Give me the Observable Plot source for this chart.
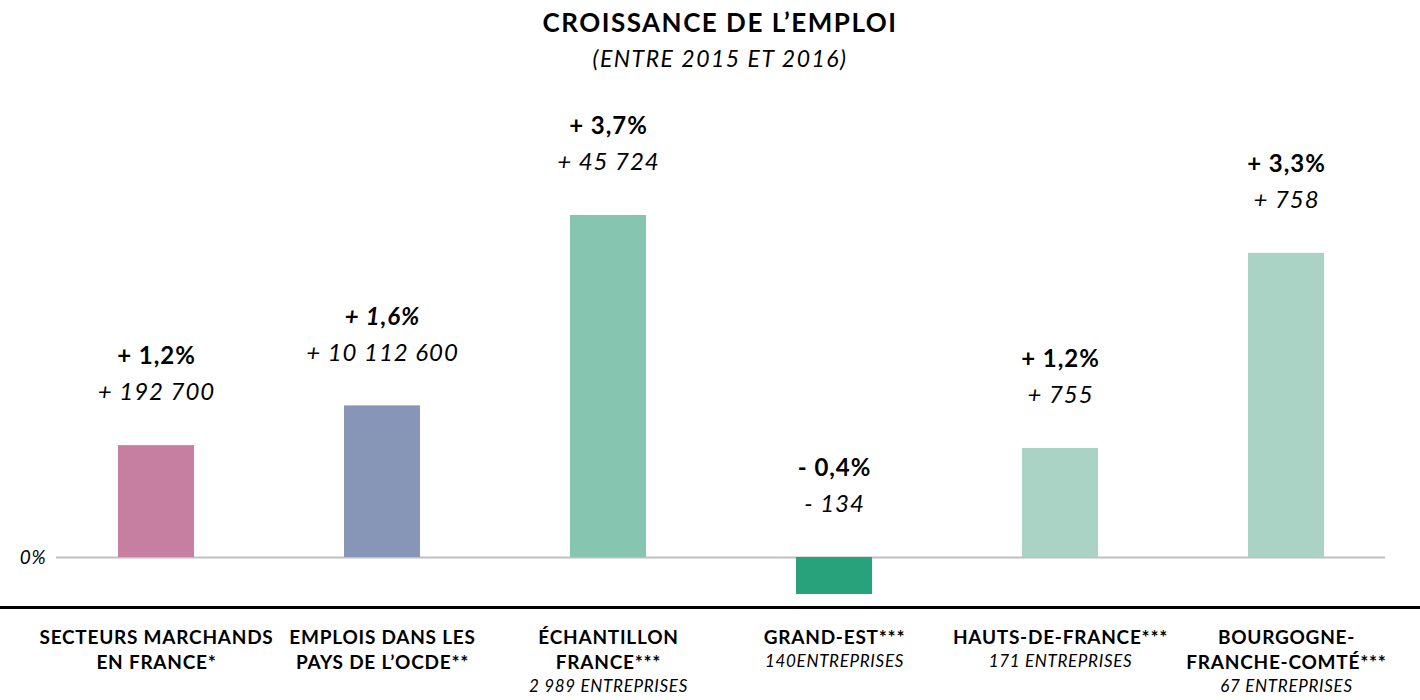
<!DOCTYPE html>
<html>
<head>
<meta charset="utf-8">
<script src="https://cdn.jsdelivr.net/npm/d3@7"></script>
<script src="https://cdn.jsdelivr.net/npm/@observablehq/plot@0.6"></script>
<style>
  html, body { margin: 0; padding: 0; background: #fff; }
  body { width: 1420px; height: 700px; overflow: hidden; font-family: Lato, "Open Sans", sans-serif; color: #000; }
  #title { height: 42px; line-height: 44px; text-align: center; padding-left: 20px; font-weight: 700; font-size: 26px; letter-spacing: 1.5px; }
  #subtitle { height: 38px; line-height: 32px; text-align: center; padding-left: 20px; font-style: italic; font-size: 23px; letter-spacing: 1.5px; }
  svg { display: block; }
  #chart svg text { letter-spacing: 0.04em; }
</style>
</head>
<body>
<div id="title">CROISSANCE DE L’EMPLOI</div>
<div id="subtitle">(ENTRE 2015 ET 2016)</div>
<div id="chart"></div>
<script>
const categories = [
  "SECTEURS MARCHANDS\nEN FRANCE*",
  "EMPLOIS DANS LES\nPAYS DE L’OCDE**",
  "ÉCHANTILLON\nFRANCE***",
  "GRAND-EST***",
  "HAUTS-DE-FRANCE***",
  "BOURGOGNE-\nFRANCHE-COMTÉ***"
];
const values = [1.21, 1.64, 3.70, -0.40, 1.18, 3.29];
const pctLabels = ["+ 1,2%", "+ 1,6%", "+ 3,7%", "- 0,4%", "+ 1,2%", "+ 3,3%"];
const countLabels = ["+ 192 700", "+ 10 112 600", "+ 45 724", "- 134", "+ 755", "+ 758"];
const subLabels = ["", "", "2 989 ENTREPRISES", "140ENTREPRISES", "171 ENTREPRISES", "67 ENTREPRISES"];
const italicPct = [false, true, false, false, false, false];
const colors = ["#C67FA0", "#8795B6", "#86C6B0", "#27A27B", "#ABD3C5", "#ABD3C5"];
const yDomain = [-0.541, 5.16];

const data = categories.map((cat, i) => ({
  cat, value: values[i], pct: pctLabels[i], count: countLabels[i],
  sub: subLabels[i], italic: italicPct[i], lines: cat.split("\n").length
}));

const font = "Lato, 'Open Sans', sans-serif";
const LH = 25;
const catSize = 19;
const subSize = 17;

const chart = Plot.plot({
  width: 1420,
  height: 620,
  marginLeft: 56,
  marginRight: 35,
  marginTop: 0,
  marginBottom: 93,
  style: { fontFamily: font, color: "#000", background: "#fff" },
  x: { type: "band", domain: categories, paddingInner: 0.665, paddingOuter: 0.264, axis: null },
  y: { domain: yDomain, axis: null },
  color: { domain: categories, range: colors },
  marks: [
    Plot.ruleY([0], { stroke: "#bfbfbf", strokeWidth: 2 }),
    Plot.barY(data, { x: "cat", y: "value", fill: "cat" }),
    Plot.text([0], { y: d => d, text: () => "0%", frameAnchor: "left", dx: -10, textAnchor: "end", fontStyle: "italic", fontSize: 19, fill: "#000" }),
    Plot.text(data.filter(d => !d.italic), { x: "cat", y: d => Math.max(0, d.value), text: "pct", dy: -89, fontWeight: 700, fontSize: 24, fill: "#000" }),
    Plot.text(data.filter(d => d.italic), { x: "cat", y: d => Math.max(0, d.value), text: "pct", dy: -89, fontWeight: 700, fontStyle: "italic", fontSize: 24, fill: "#000" }),
    Plot.text(data, { x: "cat", y: d => Math.max(0, d.value), text: "count", dy: -53, fontStyle: "italic", fontSize: 24, fill: "#000" }),
    Plot.ruleY([yDomain[0]], { stroke: "#000", strokeWidth: 3, insetLeft: -56, insetRight: -35 }),
    Plot.text(data, { x: "cat", text: "cat", frameAnchor: "bottom", lineAnchor: "top", dy: 19, lineHeight: LH / catSize, fontWeight: 700, fontSize: catSize, fill: "#000" }),
    Plot.text(data.filter(d => d.sub && d.lines === 1), { x: "cat", text: "sub", frameAnchor: "bottom", lineAnchor: "top", dy: 22 + LH, fontStyle: "italic", fontSize: subSize, fill: "#000" }),
    Plot.text(data.filter(d => d.sub && d.lines === 2), { x: "cat", text: "sub", frameAnchor: "bottom", lineAnchor: "top", dy: 22 + 2 * LH, fontStyle: "italic", fontSize: subSize, fill: "#000" })
  ]
});
document.getElementById("chart").appendChild(chart);
</script>
</body>
</html>
